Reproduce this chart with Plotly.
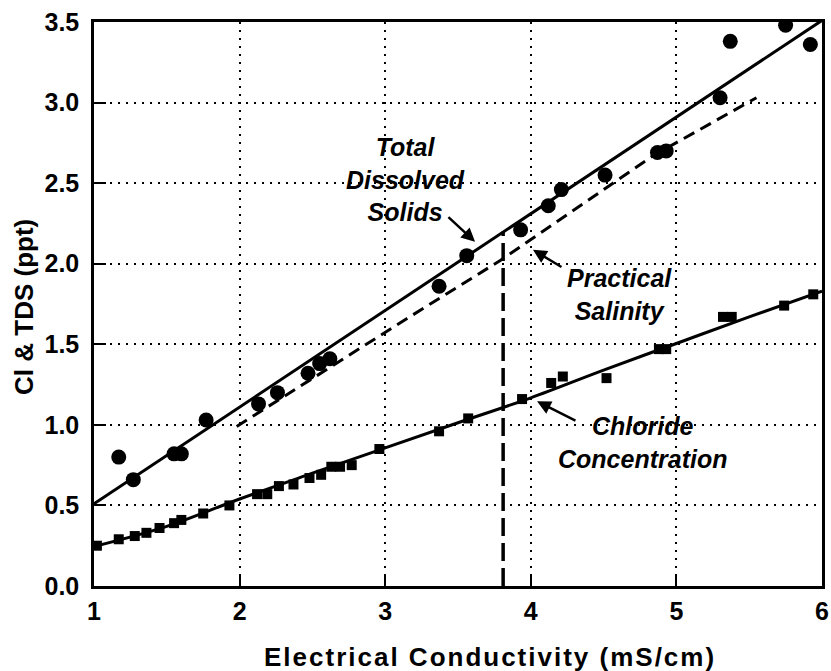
"""Cl and TDS against electrical conductivity."""
import plotly.graph_objects as go

FONT = "Liberation Sans, Arial, Helvetica, sans-serif"

# Total dissolved solids, measured (ppt)
TDS_X = [1.17, 1.27, 1.55, 1.60, 1.77, 2.13, 2.26, 2.47, 2.55, 2.62, 3.37,
         3.56, 3.93, 4.12, 4.21, 4.51, 4.87, 4.93, 5.30, 5.37, 5.75, 5.92]
TDS_Y = [0.80, 0.66, 0.82, 0.82, 1.03, 1.13, 1.20, 1.32, 1.38, 1.41, 1.86,
         2.05, 2.21, 2.36, 2.46, 2.55, 2.69, 2.70, 3.03, 3.38, 3.48, 3.36]
# TDS fit
TDS_FIT_X = [1.0, 6.0]
TDS_FIT_Y = [0.51, 3.51]

# Chloride concentration, measured (ppt)
CL_X = [1.02, 1.17, 1.28, 1.36, 1.45, 1.55, 1.60, 1.75, 1.93, 2.12, 2.19,
        2.27, 2.37, 2.48, 2.56, 2.63, 2.69, 2.77, 2.96, 3.37, 3.57, 3.94,
        4.14, 4.22, 4.52, 4.88, 4.93, 5.32, 5.38, 5.74, 5.94]
CL_Y = [0.25, 0.29, 0.31, 0.33, 0.36, 0.39, 0.41, 0.45, 0.50, 0.57, 0.57,
        0.62, 0.63, 0.67, 0.69, 0.74, 0.74, 0.75, 0.85, 0.96, 1.04, 1.16,
        1.26, 1.30, 1.29, 1.47, 1.47, 1.67, 1.67, 1.74, 1.81]
# chloride fit
CL_FIT_X = [1.0, 1.5, 2.0, 2.5, 3.0, 3.5, 4.0, 4.5, 5.0, 5.5, 6.0]
CL_FIT_Y = [0.245, 0.37, 0.54, 0.70, 0.857, 1.013, 1.168, 1.34, 1.505, 1.67, 1.83]

# practical salinity curve
PS_X = [1.98, 3.15, 3.79, 4.84, 5.55]
PS_Y = [0.99, 1.66, 2.02, 2.67, 3.03]

# marker line at the example conductivity
VLINE_X = [3.81, 3.81]
VLINE_Y = [0.0, 2.2]


def label_font(size=25):
    return dict(family=FONT, size=size, color="black", weight="bold", style="italic")


fig = go.Figure()
fig.add_trace(go.Scatter(x=TDS_FIT_X, y=TDS_FIT_Y, mode="lines",
                         line=dict(color="black", width=3)))
fig.add_trace(go.Scatter(x=PS_X, y=PS_Y, mode="lines",
                         line=dict(color="black", width=3, dash="12px,7px")))
fig.add_trace(go.Scatter(x=VLINE_X, y=VLINE_Y, mode="lines",
                         line=dict(color="black", width=3.5, dash="18px,7px")))
fig.add_trace(go.Scatter(x=CL_FIT_X, y=CL_FIT_Y, mode="lines",
                         line=dict(color="black", width=3, shape="spline")))
fig.add_trace(go.Scatter(x=TDS_X, y=TDS_Y, mode="markers",
                         marker=dict(symbol="circle", size=15, color="black")))
fig.add_trace(go.Scatter(x=CL_X, y=CL_Y, mode="markers",
                         marker=dict(symbol="square", size=10, color="black")))

axis = dict(
    showline=True, linecolor="black", linewidth=2.5, mirror=True,
    ticks="inside", ticklen=12, tickwidth=2, tickcolor="black",
    showgrid=True, gridcolor="black", gridwidth=1.5, griddash="2px,6px",
    zeroline=False, ticklabeloverflow="allow", automargin=False,
    tickfont=dict(family=FONT, size=25, color="black", weight="bold"),
)
fig.update_xaxes(axis, range=[1, 6], dtick=1, tick0=1, ticklabelstandoff=1)
fig.update_yaxes(axis, range=[0, 3.5], dtick=0.5, tickformat=".1f",
                 ticklabelstandoff=7)

notes = [
    (3.136, 2.522, "Total<br>Dissolved<br>Solids"),
    (4.606, 1.806, "Practical<br>Salinity"),
    (4.764, 0.890, "Chloride<br>Concentration"),
]
for x, y, text in notes:
    fig.add_annotation(x=x, y=y, text=text, showarrow=False, font=label_font())

# arrows: (tail x, tail y, head x, head y)
arrows = [
    (3.424, 2.298, 3.617, 2.136),
    (4.221, 1.974, 4.015, 2.086),
    (4.317, 1.021, 4.043, 1.146),
]
for tx, ty, hx, hy in arrows:
    fig.add_annotation(x=hx, y=hy, ax=tx, ay=ty, axref="x", ayref="y", text="",
                       showarrow=True, arrowhead=2, arrowsize=1.1, arrowwidth=2.5,
                       arrowcolor="black")

title_font = dict(family=FONT, size=26, color="black", weight="bold")
fig.add_annotation(x=0.544, y=-0.126, xref="paper", yref="paper",
                   xanchor="center", yanchor="middle",
                   text='<span style="letter-spacing:2px">Electrical Conductivity (mS/cm)</span>',
                   showarrow=False, font=title_font)
fig.add_annotation(x=-0.096, y=0.495, xref="paper", yref="paper",
                   xanchor="center", yanchor="middle",
                   text="Cl & TDS (ppt)", textangle=-90,
                   showarrow=False, font=title_font)

fig.update_layout(
    width=831, height=671,
    margin=dict(l=94, r=9, t=22, b=85),
    plot_bgcolor="white", paper_bgcolor="white",
    showlegend=False,
)

# drop the default 8px page margin so the figure fills the window exactly
fig.write_html("out.html", config={"displayModeBar": False},
               post_script="document.body.style.margin = '0';")
